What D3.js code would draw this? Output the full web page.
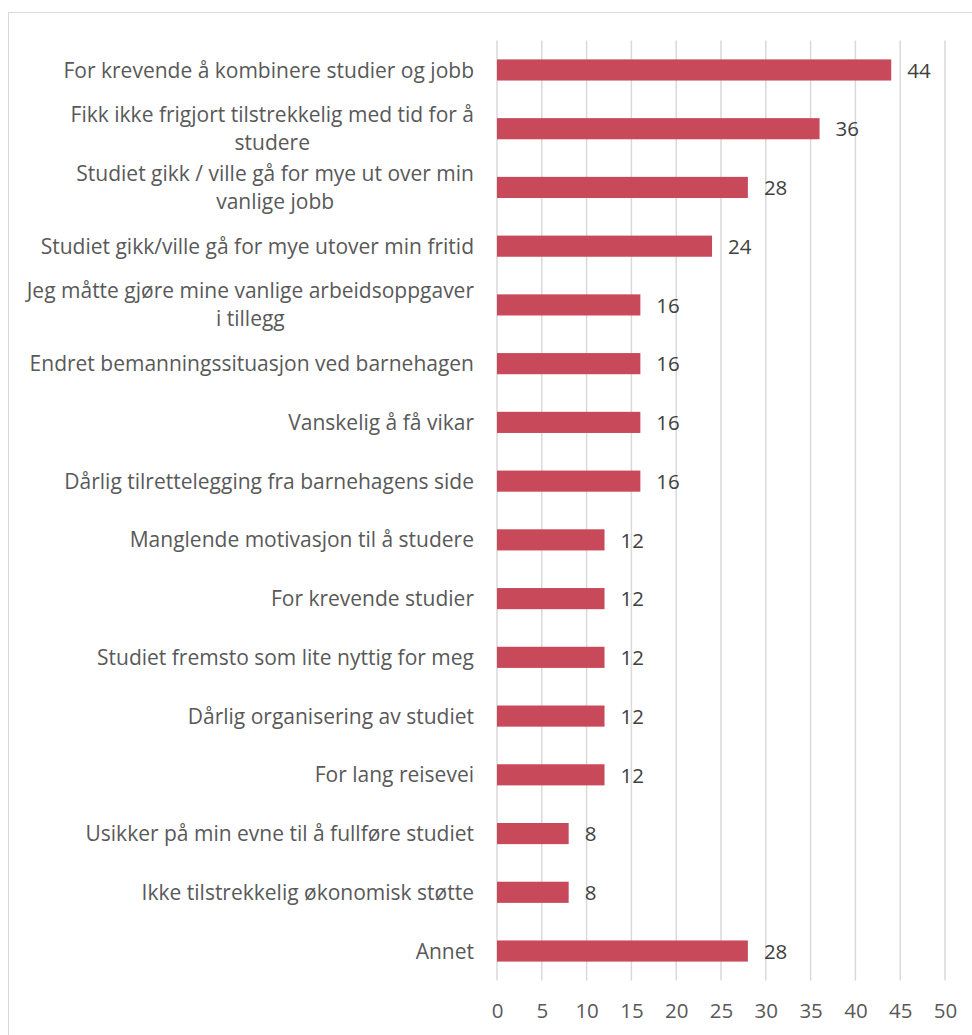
<!DOCTYPE html>
<html>
<head>
<meta charset="utf-8">
<script src="https://cdn.jsdelivr.net/npm/d3@7"></script>
<style>
  html, body { margin: 0; padding: 0; background: #fff; }
  svg { display: block; }
</style>
</head>
<body>
<svg id="chart" width="972" height="1035"></svg>
<script>
// Reasons for interrupting / not starting studies (percent)
const categories = [
  ["For krevende å kombinere studier og jobb"],
  ["Fikk ikke frigjort tilstrekkelig med tid for å", "studere"],
  ["Studiet gikk / ville gå for mye ut over min", "vanlige jobb"],
  ["Studiet gikk/ville gå for mye utover min fritid"],
  ["Jeg måtte gjøre mine vanlige arbeidsoppgaver", "i tillegg"],
  ["Endret bemanningssituasjon ved barnehagen"],
  ["Vanskelig å få vikar"],
  ["Dårlig tilrettelegging fra barnehagens side"],
  ["Manglende motivasjon til å studere"],
  ["For krevende studier"],
  ["Studiet fremsto som lite nyttig for meg"],
  ["Dårlig organisering av studiet"],
  ["For lang reisevei"],
  ["Usikker på min evne til å fullføre studiet"],
  ["Ikke tilstrekkelig økonomisk støtte"],
  ["Annet"]
];
const values = [44, 36, 28, 24, 16, 16, 16, 16, 12, 12, 12, 12, 12, 8, 8, 28];
const xTicks = [0, 5, 10, 15, 20, 25, 30, 35, 40, 45, 50];

const svg = d3.select("#chart");
const font = "'Open Sans', Lato, sans-serif";
const labelSize = 21;
const numSize = 20.5;

// chart frame
svg.append("rect")
  .attr("x", 8.5).attr("y", 12.5)
  .attr("width", 980).attr("height", 1040)
  .attr("fill", "#fff")
  .attr("stroke", "#d9d9d9").attr("stroke-width", 1);

const plot = { left: 497, right: 945, top: 40.6, bottom: 980.4 };

const x = d3.scaleLinear().domain([0, 50]).range([plot.left, plot.right]);
const y = d3.scaleBand()
  .domain(d3.range(categories.length))
  .range([plot.top, plot.bottom])
  .paddingInner(0.64).paddingOuter(0.32);

// vertical gridlines
svg.append("g")
  .selectAll("line")
  .data(xTicks)
  .join("line")
  .attr("x1", d => x(d)).attr("x2", d => x(d))
  .attr("y1", plot.top).attr("y2", plot.bottom)
  .attr("stroke", "#d9d9d9").attr("stroke-width", 1.5);

// x axis tick labels
const xAxis = d3.axisBottom(x).tickValues(xTicks).tickSize(0).tickPadding(0);
const gx = svg.append("g")
  .attr("transform", `translate(0, ${plot.bottom + 23})`)
  .call(xAxis);
gx.select(".domain").remove();
gx.selectAll("text")
  .attr("font-family", font)
  .attr("font-size", numSize)
  .attr("fill", "#595959")
  .attr("dy", "0.71em");

// bars
svg.append("g")
  .selectAll("rect")
  .data(values)
  .join("rect")
  .attr("x", x(0))
  .attr("y", (d, i) => y(i))
  .attr("width", d => x(d) - x(0))
  .attr("height", y.bandwidth())
  .attr("fill", "#c84a5a");

// value labels
svg.append("g")
  .selectAll("text")
  .data(values)
  .join("text")
  .attr("x", d => x(d) + 16)
  .attr("y", (d, i) => y(i) + y.bandwidth() / 2)
  .attr("dy", "0.38em")
  .attr("font-family", font)
  .attr("font-size", numSize)
  .attr("fill", "#404040")
  .text(d => d);

// category labels: single lines right-aligned; wrapped lines centred within their block
const labelRight = 474;
const lineH = 28;
const gLab = svg.append("g")
  .attr("font-family", font)
  .attr("font-size", labelSize)
  .attr("fill", "#595959");

categories.forEach((lines, i) => {
  const cy = y(i) + y.bandwidth() / 2;
  const t = gLab.append("text").attr("text-anchor", "end");
  if (lines.length === 1) {
    t.attr("x", labelRight).attr("y", cy).attr("dy", "0.36em").text(lines[0]);
  } else {
    // measure widest line to centre the block
    const widths = lines.map(s => {
      const m = gLab.append("text").text(s);
      const w = m.node().getComputedTextLength();
      m.remove();
      return w;
    });
    const maxW = d3.max(widths);
    const cx = labelRight - maxW / 2;
    t.attr("text-anchor", "middle");
    lines.forEach((s, k) => {
      t.append("tspan")
        .attr("x", cx)
        .attr("y", cy + (k - (lines.length - 1) / 2) * lineH)
        .attr("dy", "0.36em")
        .text(s);
    });
  }
});
</script>
</body>
</html>
